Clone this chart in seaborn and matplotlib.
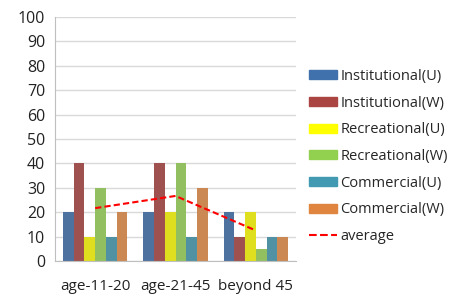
import seaborn as sns
import pandas as pd
import matplotlib.pyplot as plt
from matplotlib.lines import Line2D

groups = ['age-11-20', 'age-21-45', 'beyond 45']
series = ['Institutional(U)', 'Institutional(W)', 'Recreational(U)',
          'Recreational(W)', 'Commercial(U)', 'Commercial(W)']
inst_u = [20, 20, 20]
inst_w = [40, 40, 10]
recr_u = [10, 20, 20]
recr_w = [30, 40, 5]
comm_u = [10, 10, 10]
comm_w = [20, 30, 10]
colors = ['#4071AC', '#AB4541', '#FFFF00', '#92D050', '#4299B2', '#E0853F']

values = [inst_u, inst_w, recr_u, recr_w, comm_u, comm_w]
rows = []
for name, vals in zip(series, values):
    for g, v in zip(groups, vals):
        rows.append({'group': g, 'series': name, 'value': v})
df = pd.DataFrame(rows)
avg = df.groupby('group', sort=False)['value'].mean()

sns.set_style('white')
plt.rcParams['font.family'] = ['Open Sans', 'DejaVu Sans']

fig = plt.figure(figsize=(4.49, 2.98), dpi=100)
ax = fig.add_axes([55 / 449, 37 / 298, 241 / 449, 244 / 298])

sns.barplot(data=df, x='group', y='value', hue='series', palette=colors,
            width=0.8, ax=ax, legend=False, edgecolor='none')
ax.plot(range(len(groups)), avg.values, color='#FF0000', linestyle='--',
        linewidth=1.5, dashes=(3, 1.5))

ax.set_ylim(0, 100)
ax.set_xlim(-0.5, 2.5)
ax.set_yticks(range(0, 101, 10))
ax.yaxis.grid(True, color='#D9D9D9', linewidth=1)
ax.set_axisbelow(True)
for s in ['top', 'right']:
    ax.spines[s].set_visible(False)
ax.spines['left'].set_color('#BFBFBF')
ax.spines['bottom'].set_color('#BFBFBF')
ax.set_xlabel('')
ax.set_ylabel('')
ax.set_xticks([-0.5, 0.5, 1.5, 2.5], minor=False)
ax.set_xticklabels([])
ax.set_xticks([0, 1, 2], minor=True)
ax.set_xticklabels(groups, minor=True)
ax.tick_params(axis='x', which='major', length=5, color='#BFBFBF', direction='out')
ax.tick_params(axis='x', which='minor', length=0, pad=13, labelsize=11, colors='#222222')
ax.tick_params(axis='y', length=0, labelsize=11.5, colors='#222222', pad=7)

handles = [plt.Rectangle((0, 0), 1, 1, color=c) for c in colors]
handles.append(Line2D([0], [0], color='#FF0000', linestyle='--', linewidth=1.5))
labels = series + ['average']
fig.legend(handles, labels, loc='upper left', bbox_to_anchor=(309 / 449, 1 - 69 / 298),
           frameon=False, fontsize=10.5, handlelength=1.9, handleheight=0.6,
           labelspacing=0.8, handletextpad=0.25, borderaxespad=0, borderpad=0)

fig.savefig('out.png', dpi=100)
